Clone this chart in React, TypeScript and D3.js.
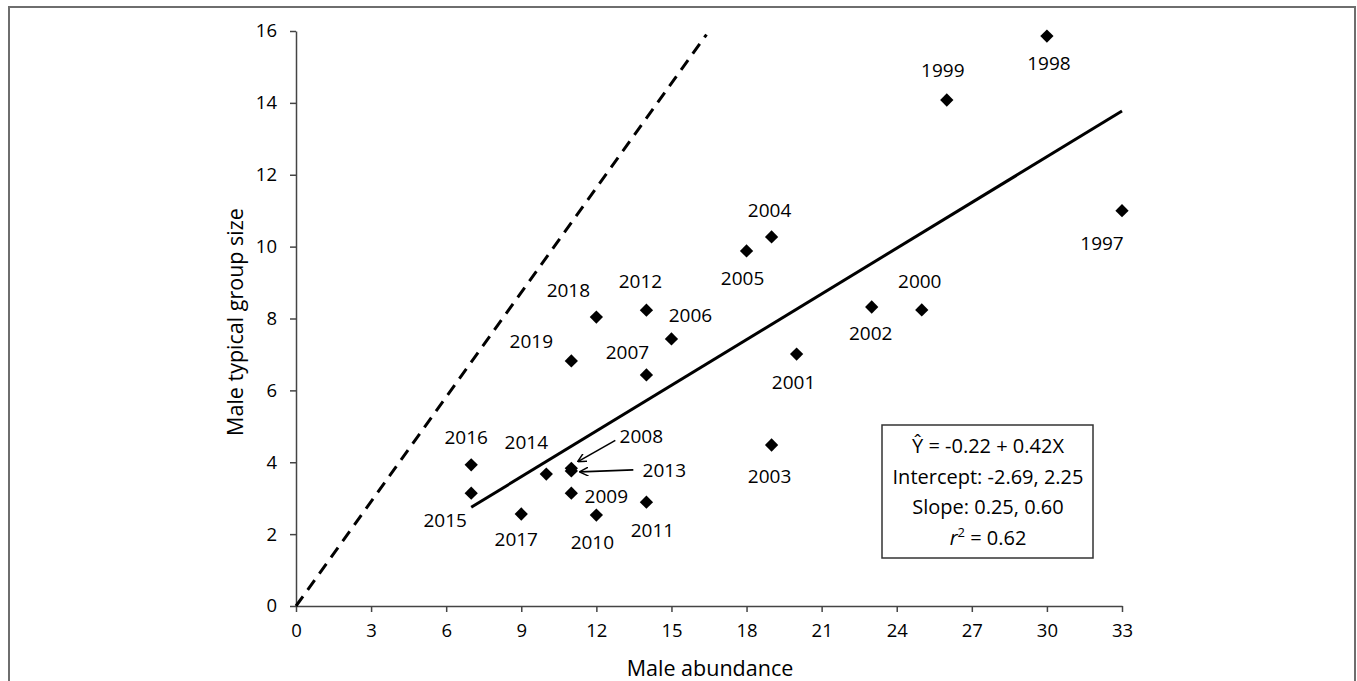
import React, { useEffect, useRef } from 'react';
import * as d3 from 'd3';

// survey years and the two measures
const years = [1997, 1998, 1999, 2000, 2001, 2002, 2003, 2004, 2005, 2006, 2007, 2008,
    2009, 2010, 2011, 2012, 2013, 2014, 2015, 2016, 2017, 2018, 2019];
const abundance = [33, 30, 26, 25, 20, 23, 19, 19, 18, 15, 14, 11, 11, 12, 14, 14, 11, 10, 7, 7, 9, 12, 11];
const groupSize = [11.0, 15.86, 14.08, 8.24, 7.01, 8.32, 4.48, 10.27, 9.88, 7.43, 6.43, 3.83,
    3.14, 2.53, 2.89, 8.23, 3.76, 3.67, 3.14, 3.93, 2.56, 8.04, 6.82];

const xTicks = [0, 3, 6, 9, 12, 15, 18, 21, 24, 27, 30, 33];
const yTicks = [0, 2, 4, 6, 8, 10, 12, 14, 16];

// fitted line and the reference (dashed) line
const fitRange = [7, 33];
const fitIntercept = -0.22;
const fitSlope = 0.424;
const refLine = [[0, 0], [16.4, 15.9]];

const statLines = ['Ŷ = -0.22 + 0.42X', 'Intercept: -2.69, 2.25', 'Slope: 0.25, 0.60'];
const r2 = '0.62';

// label placement (pixels from the marker centre)
const labelOffset: Record<number, [number, number]> = {
    1997: [-20, 33], 1998: [2, 27], 1999: [-4, -30], 2000: [-2, -29], 2001: [-3, 28],
    2002: [-1, 26], 2003: [-2, 31], 2004: [-2, -27], 2005: [-4, 27], 2006: [19, -24],
    2007: [-19, -23], 2008: [70, -32], 2009: [35, 3], 2010: [-4, 27], 2011: [6, 28],
    2012: [-6, -29], 2013: [93, -1], 2014: [-20, -32], 2015: [-26, 27], 2016: [-5, -27],
    2017: [-5, 25], 2018: [-28, -27], 2019: [-40, -20],
};
const arrows: Record<number, [number, number, number, number]> = {
    2008: [44, -28, 7, -7],
    2013: [62, -1, 9, 1],
};

export default function App() {
    const ref = useRef<SVGSVGElement>(null);

    useEffect(() => {
        const svg = d3.select(ref.current);
        svg.selectAll('*').remove();
        const font = '"Open Sans", "Noto Sans", sans-serif';

        const x = d3.scaleLinear().domain([0, 33]).range([296, 1122]);
        const y = d3.scaleLinear().domain([0, 16]).range([606, 31]);

        // outer frame
        svg.append('rect')
            .attr('x', 9).attr('y', 7).attr('width', 1346).attr('height', 700)
            .attr('fill', 'none').attr('stroke', '#6e6e6e').attr('stroke-width', 2);

        const xAxis = svg.append('g')
            .attr('transform', `translate(0,${y(0)})`)
            .call(d3.axisBottom(x).tickValues(xTicks).tickSize(6).tickSizeOuter(0).tickPadding(12));
        const yAxis = svg.append('g')
            .attr('transform', `translate(${x(0)},0)`)
            .call(d3.axisLeft(y).tickValues(yTicks).tickSize(6).tickSizeOuter(0).tickPadding(13));
        [xAxis, yAxis].forEach(a => {
            a.selectAll('path, line').attr('stroke', '#444').attr('stroke-width', 1.5);
            a.selectAll('text').attr('font-family', font).attr('font-size', 18.5).attr('fill', '#000');
        });

        svg.append('text')
            .attr('x', 710).attr('y', 676)
            .attr('text-anchor', 'middle')
            .attr('font-family', font).attr('font-size', 21.5).attr('fill', '#000')
            .text('Male abundance');
        svg.append('text')
            .attr('transform', 'translate(243,322) rotate(-90)')
            .attr('text-anchor', 'middle')
            .attr('font-family', font).attr('font-size', 21.5).attr('fill', '#000')
            .text('Male typical group size');

        // dashed reference line
        svg.append('path')
            .attr('d', d3.line()(refLine.map(p => [x(p[0]), y(p[1])] as [number, number])))
            .attr('stroke', '#000').attr('stroke-width', 3)
            .attr('stroke-dasharray', '12,8').attr('fill', 'none');

        // regression line
        svg.append('path')
            .attr('d', d3.line()(fitRange.map(v => [x(v), y(fitIntercept + fitSlope * v)] as [number, number])))
            .attr('stroke', '#000').attr('stroke-width', 3).attr('fill', 'none');

        const diamond = d3.symbol().type(d3.symbolSquare).size(88)();
        const pts = years.map((yr, i) => ({ yr, px: x(abundance[i]), py: y(groupSize[i]) }));

        svg.append('g').selectAll('path').data(pts).enter().append('path')
            .attr('d', diamond)
            .attr('transform', d => `translate(${d.px},${d.py}) rotate(45)`)
            .attr('fill', '#000');

        svg.append('g').selectAll('text').data(pts).enter().append('text')
            .attr('x', d => d.px + labelOffset[d.yr][0])
            .attr('y', d => d.py + labelOffset[d.yr][1])
            .attr('dy', '0.35em')
            .attr('text-anchor', 'middle')
            .attr('font-family', font).attr('font-size', 19).attr('fill', '#000')
            .text(d => d.yr);

        svg.append('defs').append('marker')
            .attr('id', 'head').attr('viewBox', '0 0 10 10')
            .attr('refX', 9).attr('refY', 5)
            .attr('markerWidth', 9).attr('markerHeight', 9)
            .attr('markerUnits', 'userSpaceOnUse')
            .attr('orient', 'auto')
            .append('path').attr('d', 'M0,0 L10,5 L0,10')
            .attr('fill', 'none').attr('stroke', '#000').attr('stroke-width', 1.6);

        svg.append('g').selectAll('line').data(pts.filter(d => arrows[d.yr])).enter().append('line')
            .attr('x1', d => d.px + arrows[d.yr][0])
            .attr('y1', d => d.py + arrows[d.yr][1])
            .attr('x2', d => d.px + arrows[d.yr][2])
            .attr('y2', d => d.py + arrows[d.yr][3])
            .attr('stroke', '#000').attr('stroke-width', 1.6)
            .attr('marker-end', 'url(#head)');

        // statistics box
        const box = svg.append('g').attr('transform', 'translate(882,425)');
        box.append('rect').attr('width', 211).attr('height', 133)
            .attr('fill', '#fff').attr('stroke', '#333').attr('stroke-width', 1.5);
        box.selectAll('text.stat').data(statLines).enter().append('text')
            .attr('class', 'stat')
            .attr('x', 106).attr('y', (d, i) => 28 + i * 30.7)
            .attr('text-anchor', 'middle')
            .attr('font-family', font).attr('font-size', 20).attr('fill', '#000')
            .text(d => d);
        const rt = box.append('text')
            .attr('x', 106).attr('y', 28 + 3 * 30.7)
            .attr('text-anchor', 'middle')
            .attr('font-family', font).attr('font-size', 20).attr('fill', '#000');
        rt.append('tspan').attr('font-style', 'italic').text('r');
        rt.append('tspan').attr('font-size', 13).attr('dy', -8).text('2');
        rt.append('tspan').attr('dy', 8).text(` = ${r2}`);
    }, []);

    return (
        <svg ref={ref} width={1357} height={681}
            style={{ position: 'absolute', left: 0, top: 0, background: '#fff' }} />
    );
}
